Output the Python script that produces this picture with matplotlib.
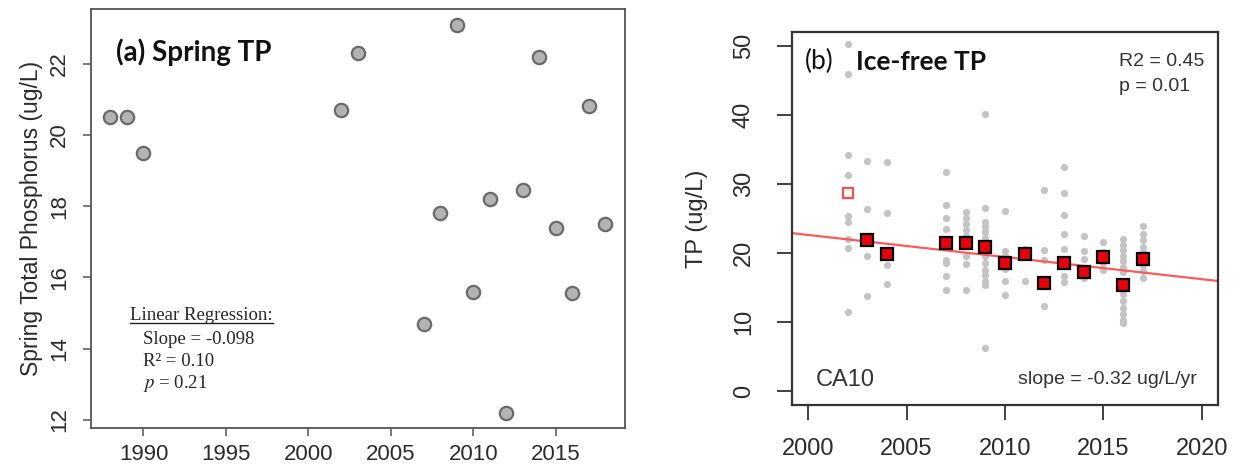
import numpy as np
import matplotlib
matplotlib.use("Agg")
import matplotlib.pyplot as plt
from matplotlib.lines import Line2D

plt.rcParams['font.family'] = ['Liberation Sans', 'DejaVu Sans']
plt.rcParams['mathtext.fontset'] = 'stix'

# (a) spring TP, one value per year
spring_years = [1988, 1989, 1990, 2002, 2003, 2007, 2008, 2009, 2010,
                2011, 2012, 2013, 2014, 2015, 2016, 2017, 2018]
spring_tp = [20.5, 20.5, 19.5, 20.7, 22.3, 14.7, 17.8, 23.1, 15.6,
             18.2, 12.2, 18.45, 22.2, 17.4, 15.55, 20.8, 17.5]

# (b) ice-free TP samples (grey), per year
icefree_samples = {
    2002: [50.2, 45.9, 34.1, 31.2, 25.4, 24.5, 22.0, 20.7, 11.4],
    2003: [33.3, 26.3, 22.0, 19.6, 13.8],
    2004: [33.1, 25.8, 20.0, 18.2, 15.5],
    2007: [31.7, 27.0, 25.0, 23.5, 21.5, 19.0, 18.5, 16.7, 14.6],
    2008: [25.9, 25.0, 24.2, 23.3, 22.5, 21.5, 19.6, 18.4, 14.6],
    2009: [40.1, 26.5, 24.5, 23.7, 23.0, 22.2, 21.0, 19.5, 18.5, 17.6,
           16.8, 16.0, 15.3, 6.2],
    2010: [26.1, 20.3, 19.5, 18.5, 17.7, 16.0, 13.9],
    2011: [20.5, 19.8, 16.0],
    2012: [29.1, 20.4, 19.0, 15.5, 12.3],
    2013: [32.5, 28.7, 25.5, 22.7, 20.6, 18.4, 16.7, 15.8],
    2014: [22.4, 20.3, 19.1, 17.3, 16.3],
    2015: [21.6, 20.2, 19.4, 18.6, 17.5],
    2016: [22.0, 21.2, 20.4, 19.6, 18.8, 18.0, 17.2, 15.3, 14.0, 13.0,
           12.0, 11.2, 10.3, 9.8],
    2017: [23.9, 22.8, 21.8, 20.9, 20.1, 19.1, 18.3, 17.4, 16.3],
}
# annual values (red squares)
annual_years = [2003, 2004, 2007, 2008, 2009, 2010, 2011, 2012, 2013,
                2014, 2015, 2016, 2017]
annual_tp = [21.9, 19.9, 21.4, 21.5, 20.8, 18.6, 19.8, 15.6, 18.5,
             17.3, 19.4, 15.3, 19.1]
excluded_year = [2002]
excluded_tp = [28.7]

# trend line
trend_x0 = 2000
trend_y0 = 22.6
trend_slope = -0.32

W, H = 1234, 468
fig = plt.figure(figsize=(W / 100, H / 100), dpi=100)


def px_axes(x0, y0, x1, y1):
    return fig.add_axes([x0 / W, 1 - y1 / H, (x1 - x0) / W, (y1 - y0) / H])


tick_col = '#2b2b2b'

# ---------- (a) ----------
ax1 = px_axes(90.7, 9, 625, 428.3)
ax1.plot(spring_years, spring_tp, 'o', ms=9.6, mfc='#b3b3b3', mec='#6a6a6a', mew=1.6)
ax1.set_xlim(1986.8, 2019.2)
ax1.set_ylim(11.764, 23.536)
ax1.set_xticks([1990, 1995, 2000, 2005, 2010, 2015])
ax1.set_yticks([12, 14, 16, 18, 20, 22])
for s in ax1.spines.values():
    s.set_color('#555555')
    s.set_linewidth(1.3)
ax1.tick_params(axis='both', direction='out', length=6, width=1.1, color='#555555',
                labelsize=16, labelcolor=tick_col)
ax1.tick_params(axis='x', pad=5)
ax1.tick_params(axis='y', pad=9)
for lab in ax1.get_yticklabels():
    lab.set_rotation(90)
    lab.set_va('center')
ax1.set_ylabel('Spring Total Phosphorus (ug/L)', fontsize=16.5, color=tick_col, labelpad=4)

ax1.text(0.048, 0.8975, '(a) Spring TP', transform=ax1.transAxes, family='Lato',
         fontweight='bold', fontsize=20, va='center', ha='left', color='#111111')

reg_col = '#262626'
t_head = ax1.text(0.0736, 0.270, 'Linear Regression:', transform=ax1.transAxes,
                  family='Liberation Serif', fontsize=13.5, va='center', color=reg_col)
ax1.text(0.0979, 0.2106, 'Slope = -0.098', transform=ax1.transAxes,
         family='Liberation Serif', fontsize=13.5, va='center', color=reg_col)
ax1.text(0.0979, 0.1588, 'R\u00b2 = 0.10', transform=ax1.transAxes,
         family='Liberation Serif', fontsize=13.5, va='center', color=reg_col)
ax1.text(0.0979, 0.1073, '$p$ = 0.21', transform=ax1.transAxes,
         family='Liberation Serif', fontsize=13.5, va='center', color=reg_col)

# ---------- (b) ----------
ax2 = px_axes(792.4, 31.7, 1217.6, 405)
for yr, vals in icefree_samples.items():
    ax2.plot([yr] * len(vals), vals, 'o', ms=5.2, color='#c4c4c4', mec='none')
ax2.axline((trend_x0, trend_y0), slope=trend_slope, color='#ff5a5a', lw=1.6)
ax2.plot(excluded_year, excluded_tp, 's', ms=7.5, mfc='white', mec='#ff4d4d', mew=1.6)
ax2.plot(annual_years, annual_tp, 's', ms=8.6, mfc='#e8000b', mec='black', mew=1.6)
ax2.set_xlim(1999.2, 2020.8)
ax2.set_ylim(-2, 52)
ax2.set_xticks([2000, 2005, 2010, 2015, 2020])
ax2.set_yticks([0, 10, 20, 30, 40, 50])
for s in ax2.spines.values():
    s.set_color('#333333')
    s.set_linewidth(1.6)
ax2.tick_params(axis='both', direction='out', length=11, width=1.3, color='#333333',
                labelsize=17, labelcolor=tick_col)
ax2.tick_params(axis='x', pad=13)
ax2.tick_params(axis='y', pad=16)
for lab in ax2.get_yticklabels():
    lab.set_rotation(90)
    lab.set_va('center')
ax2.set_ylabel('TP (ug/L)', fontsize=17, color=tick_col, labelpad=18)

ax2.text(0.0296, 0.919, '(b)', transform=ax2.transAxes, family='Lato',
         fontsize=19, va='center', ha='left', color='#111111')
ax2.text(0.1496, 0.919, 'Ice-free TP', transform=ax2.transAxes, family='Lato',
         fontweight='bold', fontsize=19, va='center', ha='left', color='#111111')
ax2.text(0.768, 0.919, 'R2 = 0.45', transform=ax2.transAxes, fontsize=14,
         va='center', ha='left', color='#333333')
ax2.text(0.768, 0.852, 'p = 0.01', transform=ax2.transAxes, fontsize=14,
         va='center', ha='left', color='#333333')
ax2.text(0.055, 0.067, 'CA10', transform=ax2.transAxes, fontsize=17,
         va='center', ha='left', color='#333333')
ax2.text(0.952, 0.067, 'slope = -0.32 ug/L/yr', transform=ax2.transAxes, fontsize=14,
         va='center', ha='right', color='#333333')

# underline the regression heading
fig.canvas.draw()
bb = t_head.get_window_extent()
fig.add_artist(Line2D([bb.x0 / W, bb.x1 / W], [(bb.y0 + 1) / H, (bb.y0 + 1) / H],
                      transform=fig.transFigure, color=reg_col, lw=1.0))

fig.savefig('out.png', dpi=100)
